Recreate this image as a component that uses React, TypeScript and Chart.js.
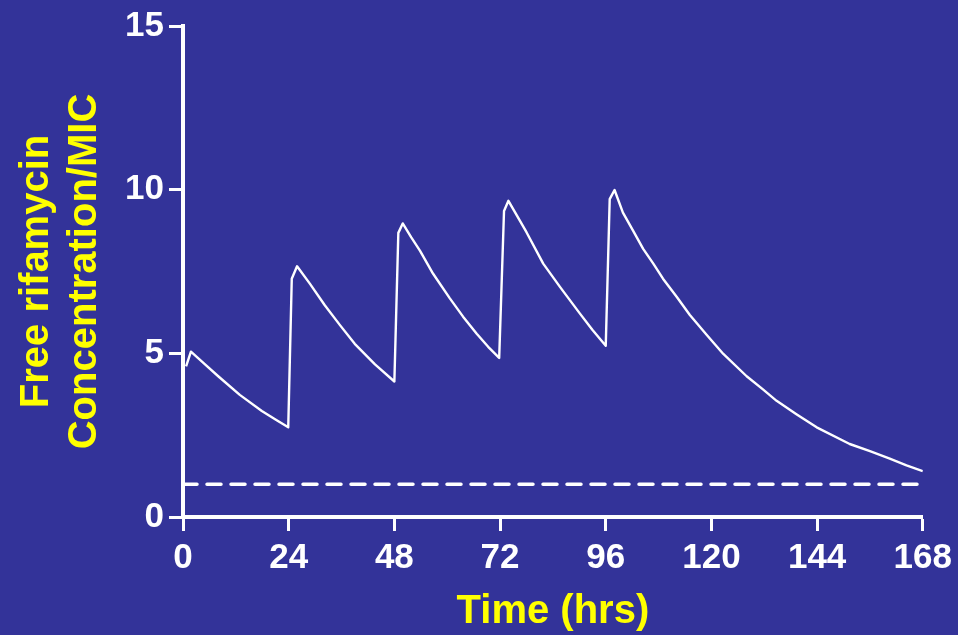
import React, { useEffect, useRef } from "react";
import { Chart, registerables } from "chart.js";

Chart.register(...registerables);

// Time since first dose (hours) and free rifamycin concentration / MIC
const timeHrs = [
  0.7, 1.8, 5.0, 8.0, 12.9, 17.9, 21.0, 23.9,
  24.7, 25.9, 28.8, 32.2, 35.6, 39.0, 43.6, 48.0,
  48.9, 49.9, 51.8, 53.8, 56.8, 60.6, 63.6, 66.7, 69.3, 71.8,
  72.9, 73.9, 76.0, 78.0, 81.8, 85.6, 90.1, 93.0, 96.0,
  96.9, 98.0, 99.9, 102.2, 104.5, 106.8, 109.0, 112.1, 115.1, 118.9, 122.7, 128.0,
  131.7, 134.8, 139.3, 143.9, 151.4, 156.0, 160.5, 164.3, 168.0,
];
const concMic = [
  4.6, 5.05, 4.66, 4.3, 3.73, 3.24, 2.98, 2.74,
  7.28, 7.66, 7.13, 6.47, 5.87, 5.29, 4.66, 4.14,
  8.68, 8.97, 8.55, 8.14, 7.43, 6.68, 6.12, 5.6, 5.2, 4.86,
  9.35, 9.66, 9.17, 8.7, 7.74, 7.03, 6.22, 5.71, 5.23,
  9.71, 9.99, 9.3, 8.75, 8.19, 7.74, 7.28, 6.73, 6.17, 5.57, 4.98, 4.3,
  3.9, 3.55, 3.14, 2.74, 2.23, 2.01, 1.78, 1.58, 1.4,
];

// MIC reference line
const micTime = [0, 168];
const micLevel = [1, 1];

const xTickValues = [0, 24, 48, 72, 96, 120, 144, 168];
const yTickValues = [0, 5, 10, 15];
const xAxisTitle = "Time (hrs)";
const yAxisTitle = ["Free rifamycin", "Concentration/MIC"];

const FAMILY = '"Liberation Sans", Arial, Helvetica, sans-serif';

export default function App() {
  const ref = useRef<HTMLCanvasElement>(null);

  useEffect(() => {
    const canvas = ref.current;
    if (!canvas) return;
    const chart = new Chart(canvas, {
      type: "line",
      data: {
        datasets: [
          {
            data: timeHrs.map((t, i) => ({ x: t, y: concMic[i] })),
            borderColor: "#ffffff",
            borderWidth: 2.4,
            borderJoinStyle: "round",
            pointRadius: 0,
            tension: 0,
            fill: false,
          },
          {
            data: micTime.map((t, i) => ({ x: t, y: micLevel[i] })),
            borderColor: "#ffffff",
            borderWidth: 3.5,
            borderDash: [14, 10],
            borderCapStyle: "round",
            pointRadius: 0,
            tension: 0,
            fill: false,
          },
        ],
      },
      options: {
        animation: false,
        responsive: false,
        maintainAspectRatio: false,
        layout: { padding: { top: 22, right: 35, bottom: 0, left: 0 } },
        plugins: {
          legend: { display: false },
          tooltip: { enabled: false },
        },
        scales: {
          x: {
            type: "linear",
            min: 0,
            max: 168,
            afterBuildTicks: (s: any) => {
              s.ticks = xTickValues.map((v) => ({ value: v }));
            },
            afterFit: (s: any) => {
              s.height = 118;
            },
            grid: {
              drawOnChartArea: false,
              drawTicks: true,
              tickLength: 14,
              tickWidth: 3,
              color: "#ffffff",
            },
            border: { display: true, color: "#ffffff", width: 4 },
            ticks: {
              color: "#ffffff",
              font: { family: FAMILY, size: 35, weight: "bold" },
              padding: 6,
              autoSkip: false,
              maxRotation: 0,
              minRotation: 0,
            },
            title: {
              display: true,
              text: xAxisTitle,
              color: "#ffff00",
              font: { family: FAMILY, size: 40, weight: "bold", lineHeight: 1 },
              padding: { top: 0, bottom: 3 },
            },
          },
          y: {
            type: "linear",
            min: 0,
            max: 15,
            afterBuildTicks: (s: any) => {
              s.ticks = yTickValues.map((v) => ({ value: v }));
            },
            afterFit: (s: any) => {
              s.width = 183;
            },
            grid: {
              drawOnChartArea: false,
              drawTicks: true,
              tickLength: 14,
              tickWidth: 3,
              color: "#ffffff",
            },
            border: { display: true, color: "#ffffff", width: 4 },
            ticks: {
              color: "#ffffff",
              font: { family: FAMILY, size: 35, weight: "bold" },
              padding: 5,
              autoSkip: false,
            },
            title: {
              display: true,
              text: yAxisTitle,
              color: "#ffff00",
              font: { family: FAMILY, size: 40, weight: "bold", lineHeight: 1.2 },
              padding: { top: 13, bottom: 0 },
            },
          },
        },
      },
    } as any);
    return () => chart.destroy();
  }, []);

  return (
    <div
      style={{
        position: "fixed",
        left: 0,
        top: 0,
        width: 958,
        height: 635,
        background: "#333399",
        overflow: "hidden",
      }}
    >
      <canvas ref={ref} width={958} height={635} style={{ display: "block" }} />
    </div>
  );
}
